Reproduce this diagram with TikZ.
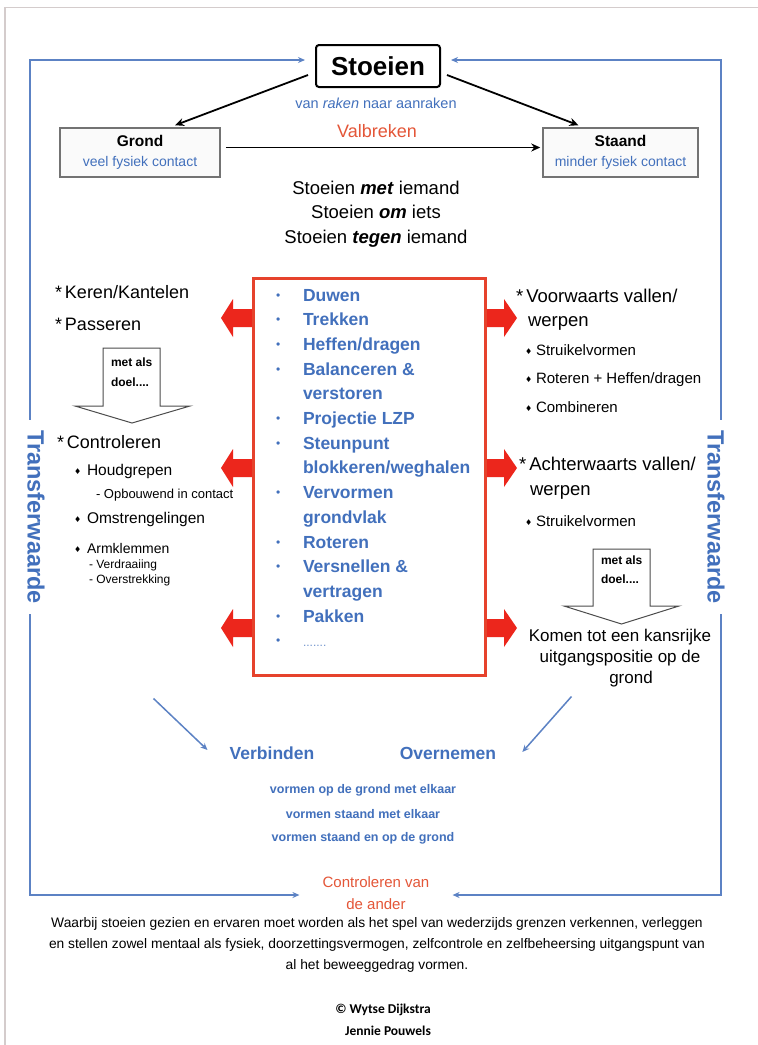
\documentclass[tikz,border=0pt]{standalone}
\usepackage{fontspec}
\setmainfont{Liberation Sans}
\newfontfamily\symf{DejaVu Sans}
\newfontfamily\calf{Carlito}
\usetikzlibrary{arrows.meta}
\definecolor{tblue}{RGB}{66,112,188}
\definecolor{fblue}{RGB}{92,130,196}
\definecolor{rbox}{RGB}{230,66,44}
\definecolor{rarrow}{RGB}{236,38,28}
\definecolor{otext}{RGB}{228,86,56}
\definecolor{pgray}{RGB}{212,204,204}
\newcommand{\fs}[1]{\fontsize{#1}{#1}\selectfont}
\newcommand{\dia}{{\symf\fs{8}\char"2666}}
\begin{document}
\begin{tikzpicture}[x=1pt,y=-1pt,
  t/.style={inner sep=0pt,outer sep=0pt,anchor=base west},
  tc/.style={inner sep=0pt,outer sep=0pt,anchor=base},
  frame/.style={draw=fblue,line width=2.2pt},
  ftip/.style={-{Stealth[length=7pt,width=6pt]}},
  blk/.style={draw=black,line width=1.8pt,-{Stealth[length=9pt,width=8pt]}},
  thinblue/.style={draw=fblue,line width=1.5pt,-{Stealth[length=7pt,width=6pt]}},
  gbox/.style={draw=black!55,line width=1.5pt,fill=black!2,minimum width=#1,minimum height=49pt,inner sep=0pt,align=center,font=\fontsize{14}{20}\selectfont},
  doelarrow/.style={draw=black!70,line width=1pt,fill=white},
  redarrow/.style={fill=rarrow},
  item/.style={t,text=tblue,font=\bfseries\fs{17.5}},
  lefthead/.style={t,font=\fs{18}},
  righthead/.style={t,font=\fs{18.5}},
  sub/.style={t,font=\fs{15}},
  doeltext/.style={t,font=\bfseries\fs{12}},
  vormen/.style={inner sep=0pt,text=tblue,font=\bfseries\fs{12.5}},
]
\useasboundingbox (0,0) rectangle (758,1045);
\fill[white] (0,0) rectangle (758,1045);
% page border
\draw[pgray,line width=1.2pt] (5,1045) -- (5,7.5) -- (758,7.5);

% top
\node[draw,line width=2pt,rounded corners=3pt,minimum width=124pt,minimum height=42pt,inner sep=0pt,font=\bfseries\fs{26}] (stoeien) at (378,66) {Stoeien};
\node[gbox=160pt] (grond) at (140,152.5) {{\bfseries\fs{15.5}Grond}\\{\color{tblue}veel fysiek contact}};
\node[gbox=155pt] (staand) at (620.5,152.5) {{\bfseries\fs{15.5}Staand}\\{\color{tblue}minder fysiek contact}};
\draw[blk] ([shift={(-7,9)}]stoeien.west) -- ([shift={(35,-2)}]grond.north);
\draw[blk] ([shift={(6,9)}]stoeien.east) -- ([shift={(-42,-2)}]staand.north);
\draw[blk] ([shift={(5,-5)}]grond.east) -- ([shift={(-2,-5)}]staand.west);
\node[tc,text=tblue,font=\fs{14.5}] (vanraken) at (376,108) {van \textit{raken} naar aanraken};
\node[tc,text=otext,font=\fs{18}] (valbreken) at (377,137) {Valbreken};
\node[tc,font=\fs{18.5}] (met) at (376,194) {Stoeien \textbf{\textit{met}} iemand};
\node[tc,font=\fs{18.5}] (om) at (376,218) {Stoeien \textbf{\textit{om}} iets};
\node[tc,font=\fs{18.5}] (tegen) at (376,243) {Stoeien \textbf{\textit{tegen}} iemand};

% red arrows
\foreach \y in {318,468,628}{
  \fill[redarrow] (253,\y) ++(0,-9) -- ++(-20,0) -- ++(0,-10) -- ++(-12,19) -- ++(12,19) -- ++(0,-10) -- ++(20,0) -- cycle;
  \fill[redarrow] (485,\y) ++(0,-9) -- ++(19,0) -- ++(0,-10) -- ++(13,19) -- ++(-13,19) -- ++(0,-10) -- ++(-19,0) -- cycle;
}
% central box
\node[draw=rbox,line width=3pt,fill=white,minimum width=232pt,minimum height=397pt,inner sep=0pt] (box) at (369,476.5) {};
\foreach \i/\txt in {1/Duwen,2/Trekken,3/Heffen\slash dragen,4/Balanceren \&,5/verstoren,6/Projectie LZP,7/Steunpunt,8/blokkeren\slash weghalen,9/Vervormen,10/grondvlak,11/Roteren,12/Versnellen \&,13/vertragen,14/Pakken}{
  \node[item] (it\i) at (303,{301+24.7*(\i-1)}) {\txt};
}
\node[t,text=tblue!75,font=\fs{12}] (it15) at (303,646.8) {.......};
\foreach \i in {1,2,3,4,6,7,9,11,12,14,15}{
  \node[t,text=tblue,font=\fs{12}] (bul\i) at (276,{299+24.7*(\i-1)}) {•};
}

% left column
\node[lefthead] (keren) at (55,298) {*\,Keren/Kantelen};
\node[lefthead] (passeren) at (55,330) {*\,Passeren};
\draw[doelarrow] (103,348) -- (160,348) -- (160,406) -- (190,406) -- (132,423) -- (75,406) -- (103,406) -- cycle;
\node[doeltext] (doelL1) at (111,366) {met als};
\node[doeltext] (doelL2) at (111,386) {doel....};
\node[lefthead] (controleren) at (57,448) {*\,Controleren};
\node[t] (d1) at (74,474) {\dia};
\node[t,font=\fs{15.5}] (houd) at (87,475) {Houdgrepen};
\node[t,font=\fs{13}] (opb) at (96,498) {- Opbouwend in contact};
\node[t] (d2) at (74,522) {\dia};
\node[t,font=\fs{15.5}] (omstr) at (87,523) {Omstrengelingen};
\node[t] (d3) at (74,552) {\dia};
\node[t,font=\fs{14}] (arm) at (87,553) {Armklemmen};
\node[t,font=\fs{12}] (verdr) at (89,568) {- Verdraaiing};
\node[t,font=\fs{12}] (overs) at (89,583) {- Overstrekking};

% right column
\node[righthead] (voorw) at (516,302) {*\,Voorwaarts vallen/};
\node[righthead] (werp1) at (528,326) {werpen};
\node[t] (d4) at (525,354) {\dia};
\node[sub] (str1) at (536,355) {Struikelvormen};
\node[t] (d5) at (525,382) {\dia};
\node[sub] (rot) at (536,383) {Roteren + Heffen/dragen};
\node[t] (d6) at (525,411) {\dia};
\node[sub] (comb) at (536,412) {Combineren};
\node[righthead] (achter) at (519,470) {*\,Achterwaarts vallen/};
\node[righthead] (werp2) at (530,495) {werpen};
\node[t] (d7) at (525,525) {\dia};
\node[sub] (str2) at (536,526) {Struikelvormen};
\draw[doelarrow] (593,549) -- (650,549) -- (650,606) -- (679,606) -- (621.5,624) -- (564,606) -- (593,606) -- cycle;
\node[doeltext] (doelR1) at (601,564) {met als};
\node[doeltext] (doelR2) at (601,583) {doel....};
\node[align=center,inner sep=0pt,font=\fontsize{17}{21}\selectfont] (komen) at (620,658) {Komen tot een kansrijke\\uitgangspositie op de\\\hspace*{22pt}grond};

% bottom middle
\node[inner sep=0pt,text=tblue,font=\bfseries\fs{17.5}] (verbinden) at (272,753) {Verbinden};
\node[inner sep=0pt,text=tblue,font=\bfseries\fs{17.5}] (overnemen) at (448,753) {Overnemen};
\draw[thinblue] ([shift={(-98,22)}]box.south west) -- ([shift={(-22,-3)}]verbinden.west);
\draw[thinblue] ([shift={(85,20)}]box.south east) -- ([shift={(26,-1)}]overnemen.east);
\node[vormen] (v1) at (363,790) {vormen op de grond met elkaar};
\node[vormen] (v2) at (363,814) {vormen staand met elkaar};
\node[vormen] (v3) at (363,838) {vormen staand en op de grond};

\node[inner sep=0pt,align=center,text=otext,font=\fontsize{15}{22}\selectfont] (ctrl) at (376,893) {Controleren van\\de ander};

% frame
\coordinate (TL) at (30,60);
\coordinate (TR) at (721,60);
\coordinate (BL) at (30,895);
\coordinate (BR) at (721,895);
\node[inner sep=0pt,rotate=-90,text=tblue,font=\bfseries\fs{23.5}] (transL) at (36,517) {Transferwaarde};
\node[inner sep=0pt,rotate=-90,text=tblue,font=\bfseries\fs{23.5}] (transR) at (716,517) {Transferwaarde};
\draw[frame,ftip,shorten <=10pt,shorten >=10pt] (TL |- transL.west) -- (TL) -- (stoeien.west |- TL);
\draw[frame,ftip,shorten <=10pt,shorten >=10pt] (TR |- transR.west) -- (TR) -- (stoeien.east |- TR);
\draw[frame,ftip,shorten <=10pt,shorten >=23pt] (BL |- transL.east) -- (BL) -- (ctrl.west |- BL);
\draw[frame,ftip,shorten <=10pt,shorten >=23pt] (BR |- transR.east) -- (BR) -- (ctrl.east |- BR);

% paragraph
\node[inner sep=0pt,align=center,font=\fontsize{13.8}{21}\selectfont] (para) at (377,945) {Waarbij stoeien gezien en ervaren moet worden als het spel van wederzijds grenzen verkennen, verleggen\\en stellen zowel mentaal als fysiek, doorzettingsvermogen, zelfcontrole en zelfbeheersing uitgangspunt van\\al het beweeggedrag vormen.};
\node[inner sep=0pt,font=\calf\bfseries\fs{13.5}] (cr1) at (383,1010) {© Wytse Dijkstra};
\node[inner sep=0pt,font=\calf\bfseries\fs{13.5}] (cr2) at (388,1031) {Jennie Pouwels};
\end{tikzpicture}
\end{document}
